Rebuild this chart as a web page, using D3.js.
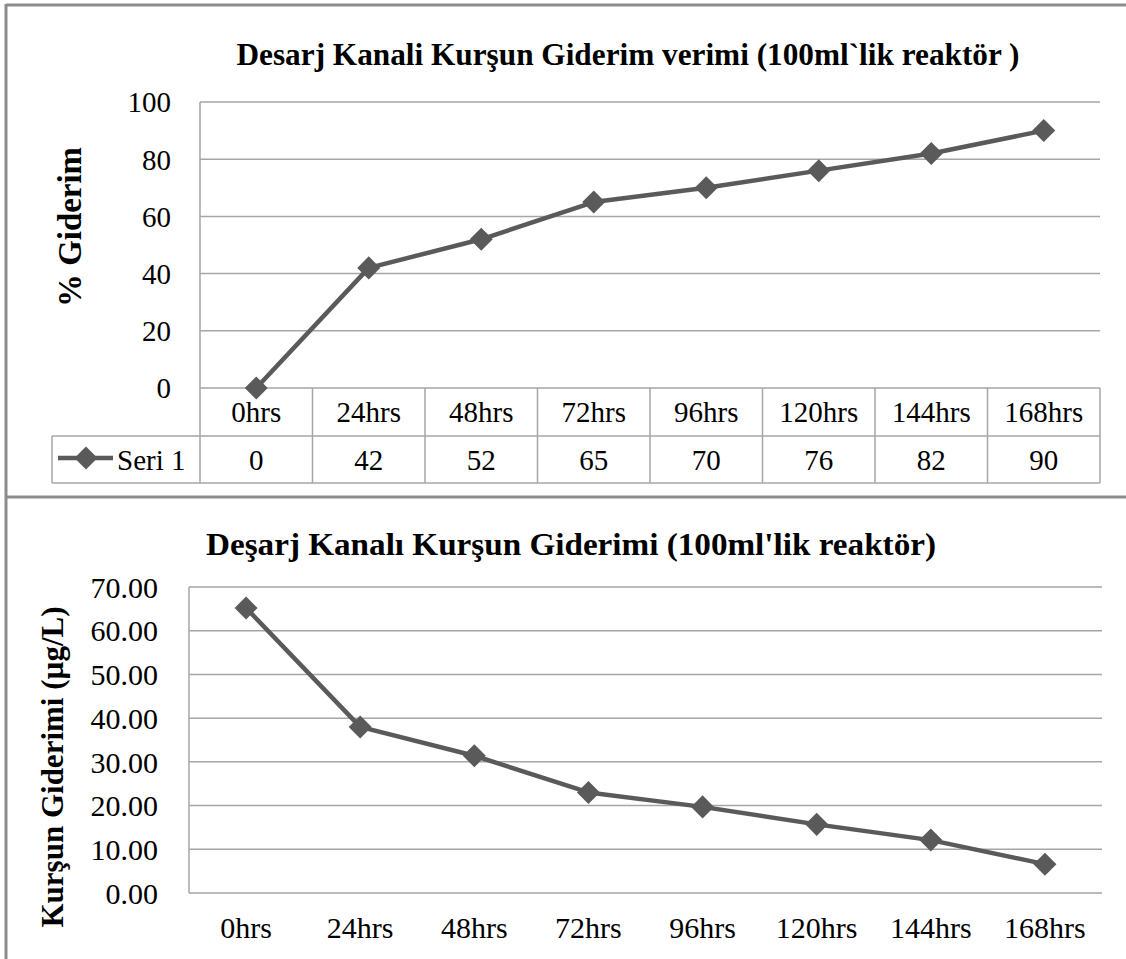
<!DOCTYPE html>
<html><head><meta charset="utf-8">
<script src="https://cdn.jsdelivr.net/npm/d3@7"></script>
<style>
body{margin:0;background:#fff;}
</style></head><body>
<svg id="c" width="1126" height="959" font-family="Liberation Serif"></svg>
<script>
const categories = ["0hrs","24hrs","48hrs","72hrs","96hrs","120hrs","144hrs","168hrs"];
const removalPct = [0,42,52,65,70,76,82,90];
const leadConc = [65.2,38.0,31.4,23.0,19.7,15.7,12.1,6.6];
const topTicks = [0,20,40,60,80,100];
const bottomTicks = [0,10,20,30,40,50,60,70];
const seriesName = "Seri 1";
const title1 = "Desarj Kanali Kurşun Giderim verimi (100ml`lik reaktör )";
const title2 = "Deşarj Kanalı Kurşun Giderimi (100ml'lik reaktör)";
const yTitle1 = "% Giderim";
const yTitle2 = "Kurşun Giderimi (µg/L)";

const svg = d3.select("#c");
const LINE = "#5a5a5a", GRID = "#a6a6a6", BORDER = "#8c8c8c";

svg.append("rect").attr("x",0).attr("y",0).attr("width",1126).attr("height",959).attr("fill","#fff");
svg.append("line").attr("x1",6).attr("x2",1126).attr("y1",5).attr("y2",5).attr("stroke",BORDER).attr("stroke-width",3);
svg.append("line").attr("x1",6).attr("x2",6).attr("y1",4).attr("y2",959).attr("stroke",BORDER).attr("stroke-width",3);
svg.append("line").attr("x1",6).attr("x2",1126).attr("y1",497).attr("y2",497).attr("stroke",BORDER).attr("stroke-width",3);

const diamond = d3.symbol().type(d3.symbolSquare).size(265);
function applyFont(sel, size, bold){
  sel.attr("font-family","Liberation Serif")
     .style("font-family","'Liberation Serif', 'Times New Roman', Tinos")
     .attr("font-size",size).attr("font-weight",bold?"bold":"normal").attr("fill","#000");
}

function drawChart(opts){
  const g = svg.append("g");
  const x = d3.scaleBand().domain(categories).range(opts.xr).padding(0);
  const y = d3.scaleLinear().domain(opts.yd).range(opts.yr);
  g.append("g").selectAll("line").data(opts.ticks).join("line")
    .attr("x1",opts.xr[0]).attr("x2",opts.xr[1])
    .attr("y1",d=>y(d)).attr("y2",d=>y(d))
    .attr("stroke",GRID).attr("stroke-width",1.5);
  g.append("line").attr("x1",opts.xr[0]).attr("x2",opts.xr[0])
    .attr("y1",y(opts.yd[1])).attr("y2",y(0)).attr("stroke",GRID).attr("stroke-width",1.5);
  const ax = g.append("g").attr("transform",`translate(${opts.labelX},0)`)
    .call(d3.axisLeft(y).tickValues(opts.ticks).tickSize(0).tickPadding(0).tickFormat(opts.fmt));
  ax.attr("font-family","Liberation Serif").attr("font-size",opts.tickFont);
  ax.select(".domain").remove();
  ax.selectAll("text").call(applyFont, opts.tickFont, false).attr("dy","0.34em");
  g.append("text").attr("x",opts.titleX).attr("y",opts.titleY).attr("text-anchor","middle")
    .call(applyFont, opts.titleFont, true)
    .attr("textLength",opts.titleLen).attr("lengthAdjust","spacingAndGlyphs").text(opts.title);
  g.append("text").attr("transform",`translate(${opts.ytX},${opts.ytY}) rotate(-90)`)
    .attr("text-anchor","middle").call(applyFont, opts.ytFont, true)
    .attr("textLength",opts.ytLen).attr("lengthAdjust","spacingAndGlyphs").text(opts.yTitle);
  const cx = d=>x(d)+x.bandwidth()/2;
  g.append("path").datum(opts.values.map((v,i)=>[cx(categories[i]),y(v)]))
    .attr("d",d3.line()).attr("fill","none").attr("stroke",LINE).attr("stroke-width",4.5).attr("stroke-linejoin","round");
  g.append("g").selectAll("path").data(opts.values).join("path")
    .attr("d",diamond).attr("fill",LINE)
    .attr("transform",(d,i)=>`translate(${cx(categories[i])},${y(d)}) rotate(45)`);
  return {x,y,g};
}

const c1 = drawChart({
  xr:[200,1100], yd:[0,100], yr:[388,102], ticks:topTicks, fmt:d3.format("d"),
  labelX:171, tickFont:29, title:title1, titleX:628, titleY:65, titleFont:31, titleLen:783,
  yTitle:yTitle1, ytX:81, ytY:227, ytFont:33, ytLen:160, values:removalPct
});
(function(){
  const {x,g} = c1;
  const T = g.append("g");
  const yTop=388, yMid=436, yBot=483, xLeg=52;
  const edges = categories.map(c=>x(c)).concat([1100]);
  T.selectAll("line.v").data(edges).join("line").attr("class","v")
    .attr("x1",d=>d).attr("x2",d=>d).attr("y1",yTop).attr("y2",yBot)
    .attr("stroke",GRID).attr("stroke-width",1.5);
  T.append("line").attr("x1",xLeg).attr("x2",1100).attr("y1",yMid).attr("y2",yMid).attr("stroke",GRID).attr("stroke-width",1.5);
  T.append("line").attr("x1",xLeg).attr("x2",1100).attr("y1",yBot).attr("y2",yBot).attr("stroke",GRID).attr("stroke-width",1.5);
  T.append("line").attr("x1",xLeg).attr("x2",xLeg).attr("y1",yMid).attr("y2",yBot).attr("stroke",GRID).attr("stroke-width",1.5);
  T.selectAll("text.h").data(categories).join("text").attr("class","h")
    .attr("x",d=>x(d)+x.bandwidth()/2).attr("y",422).attr("text-anchor","middle")
    .call(applyFont,29,false).text(d=>d);
  T.selectAll("text.v").data(removalPct).join("text").attr("class","v")
    .attr("x",(d,i)=>x(categories[i])+x.bandwidth()/2).attr("y",470).attr("text-anchor","middle")
    .call(applyFont,29,false).text(d=>d);
  T.append("line").attr("x1",58).attr("x2",113).attr("y1",458).attr("y2",458).attr("stroke",LINE).attr("stroke-width",4.5);
  T.append("path").attr("d",diamond).attr("fill",LINE).attr("transform","translate(86,458) rotate(45)");
  T.append("text").attr("x",117).attr("y",470).call(applyFont,29,false).text(seriesName);
})();

const c2 = drawChart({
  xr:[189,1102], yd:[0,70], yr:[893,587], ticks:bottomTicks, fmt:d3.format(".2f"),
  labelX:158, tickFont:30, title:title2, titleX:571, titleY:555, titleFont:31, titleLen:730,
  yTitle:yTitle2, ytX:63, ytY:767, ytFont:31, ytLen:321, values:leadConc
});
c2.g.append("g").selectAll("text").data(categories).join("text")
  .attr("x",d=>c2.x(d)+c2.x.bandwidth()/2).attr("y",938).attr("text-anchor","middle")
  .call(applyFont,30,false).text(d=>d);
</script></body></html>
